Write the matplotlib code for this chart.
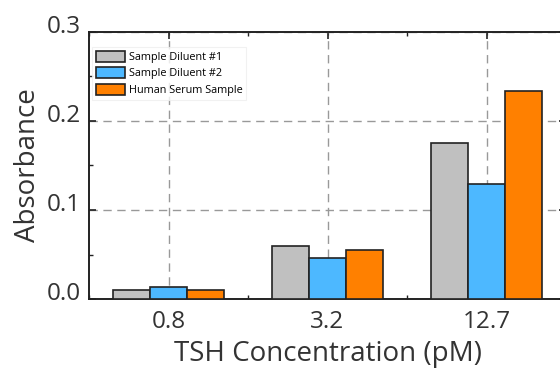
import numpy as np
import matplotlib
matplotlib.use("Agg")
import matplotlib.pyplot as plt
import matplotlib.transforms as mtransforms
from matplotlib.ticker import MultipleLocator

# Datos
concentraciones = ['0.8', '3.2', '12.7']
diluyente_1 = [0.0105, 0.060, 0.175]
diluyente_2 = [0.0140, 0.046, 0.129]
suero_humano = [0.0105, 0.055, 0.234]
series = ['Sample Diluent #1', 'Sample Diluent #2', 'Human Serum Sample']
colores = ['#C0C0C0', '#4DB8FF', '#FF8000']

plt.rcParams['font.family'] = ['Open Sans', 'DejaVu Sans']

fig = plt.figure(figsize=(5.6, 3.73), dpi=100)
ax = fig.add_axes([89 / 560, 1 - 299 / 373, (566 - 89) / 560, (299 - 32) / 373])

x = np.arange(len(concentraciones))
ancho = 0.233
for i, (valores, nombre, color) in enumerate(zip([diluyente_1, diluyente_2, suero_humano], series, colores)):
    ax.bar(x + (i - 1) * ancho, valores, width=ancho, color=color, edgecolor='#222222',
           linewidth=1.2, label=nombre, zorder=3)

ax.set_xlim(-0.5, 2.5)
ax.set_ylim(0, 0.3)
ax.set_xticks(x)
ax.set_xticklabels(concentraciones)
ax.xaxis.set_minor_locator(MultipleLocator(1, offset=0.5))
ax.yaxis.set_major_locator(MultipleLocator(0.1))
ax.yaxis.set_minor_locator(MultipleLocator(0.05))
ax.yaxis.set_major_formatter(matplotlib.ticker.FormatStrFormatter('%.1f'))

ax.tick_params(which='both', direction='in', top=True, right=True, labelsize=17.5, color='#222222')
ax.tick_params(which='major', length=5, width=1.2)
ax.tick_params(which='minor', length=3, width=1.0)
ax.tick_params(axis='y', pad=6)
ax.tick_params(axis='x', pad=8)

# Las etiquetas del eje y aparecen algo desplazadas hacia arriba
desplazamiento = mtransforms.ScaledTranslation(0, 8 / 100, fig.dpi_scale_trans)
for etiqueta in ax.get_yticklabels():
    etiqueta.set_transform(etiqueta.get_transform() + desplazamiento)

for lado in ['left', 'bottom', 'top', 'right']:
    ax.spines[lado].set_linewidth(1.4)
    ax.spines[lado].set_color('#222222')

ax.grid(True, which='major', linestyle=(0, (6, 4)), color='#999999', linewidth=1.0, zorder=0)

ax.set_xlabel('TSH Concentration (pM)', fontsize=20, color='#333333', labelpad=4)
ax.set_ylabel('Absorbance', fontsize=20, color='#333333', labelpad=3)
for t in ax.get_xticklabels() + ax.get_yticklabels():
    t.set_color('#333333')

leg = ax.legend(loc='upper left', fontsize=7.8, frameon=True, fancybox=False,
                handlelength=2.7, handleheight=1.15, handletextpad=0.3,
                labelspacing=0.4, borderpad=0.35, borderaxespad=0.3,
                bbox_to_anchor=(0.0, 0.955))
leg.get_frame().set_edgecolor('#eeeeee')
leg.get_frame().set_linewidth(0.8)

fig.savefig('out.png', dpi=100)
